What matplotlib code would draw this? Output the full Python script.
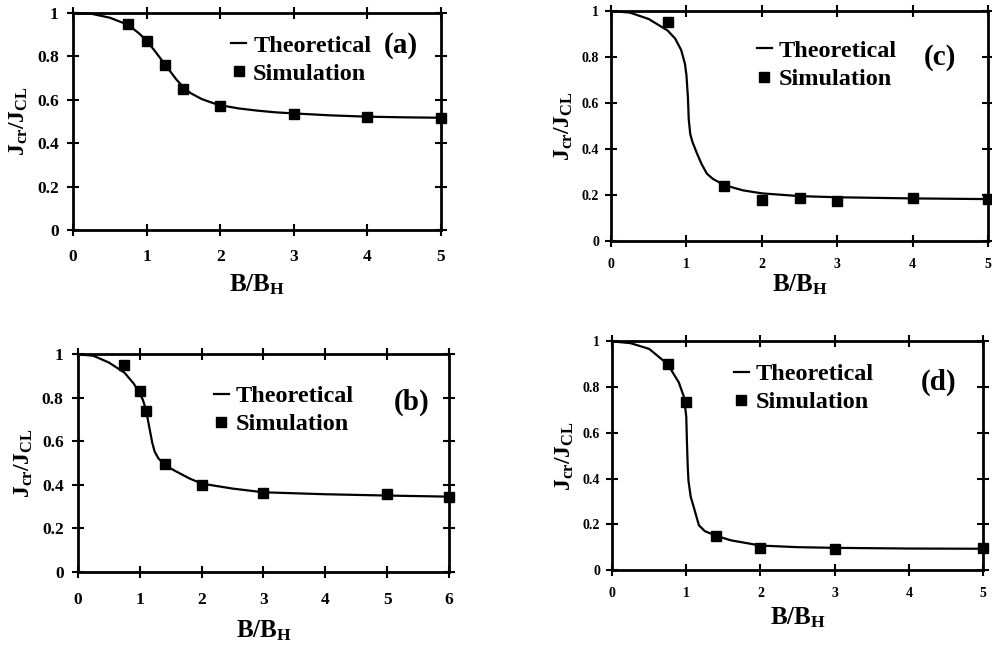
import matplotlib
matplotlib.use("Agg")
import matplotlib.pyplot as plt
from matplotlib.lines import Line2D

plt.rcParams['font.family'] = ['Liberation Serif', 'DejaVu Serif']
plt.rcParams['font.weight'] = 'bold'
plt.rcParams['mathtext.fontset'] = 'custom'
plt.rcParams['mathtext.rm'] = 'Liberation Serif:bold'
plt.rcParams['mathtext.bf'] = 'Liberation Serif:bold'
plt.rcParams['mathtext.it'] = 'Liberation Serif:bold'
plt.rcParams['lines.solid_joinstyle'] = 'round'

# ---- data ----
# panel (a)
a_curve_x = [0, 0.25, 0.5, 0.75, 0.9, 1.0, 1.1, 1.2, 1.3, 1.4, 1.5, 1.6, 1.75, 1.9, 2.0,
             2.25, 2.5, 2.75, 3.0, 3.5, 4.0, 4.5, 5.0]
a_curve_y = [1.0, 0.996, 0.978, 0.945, 0.905, 0.872, 0.83, 0.785, 0.74, 0.695, 0.657, 0.63,
             0.603, 0.585, 0.575, 0.56, 0.55, 0.542, 0.537, 0.528, 0.522, 0.519, 0.517]
a_sim_x = [0.75, 1.0, 1.25, 1.5, 2, 3, 4, 5]
a_sim_y = [0.95, 0.87, 0.76, 0.65, 0.57, 0.535, 0.52, 0.515]

# panel (b)
b_curve_x = [0, 0.25, 0.5, 0.75, 0.9, 1.0, 1.05, 1.1, 1.15, 1.2, 1.24, 1.3, 1.4, 1.5, 1.6,
             1.8, 2.0, 2.5, 3.0, 4.0, 5.0, 6.0]
b_curve_y = [1.0, 0.993, 0.962, 0.916, 0.866, 0.82, 0.79, 0.745, 0.67, 0.595, 0.553, 0.522,
             0.494, 0.475, 0.46, 0.43, 0.406, 0.383, 0.366, 0.357, 0.351, 0.346]
b_sim_x = [0.75, 1.0, 1.1, 1.4, 2, 3, 5, 6]
b_sim_y = [0.95, 0.83, 0.74, 0.495, 0.40, 0.363, 0.356, 0.345]

# panel (c)
c_curve_x = [0, 0.25, 0.5, 0.75, 0.85, 0.93, 0.98, 1.0, 1.02, 1.03, 1.05, 1.08, 1.14, 1.2,
             1.27, 1.35, 1.5, 1.75, 2.0, 2.5, 3.0, 4.0, 5.0]
c_curve_y = [1.0, 0.993, 0.965, 0.915, 0.88, 0.83, 0.77, 0.72, 0.62, 0.53, 0.465, 0.43,
             0.38, 0.335, 0.293, 0.27, 0.243, 0.22, 0.207, 0.195, 0.19, 0.185, 0.182]
c_sim_x = [0.75, 1.5, 2, 2.5, 3, 4, 5]
c_sim_y = [0.95, 0.24, 0.18, 0.187, 0.175, 0.187, 0.183]

# panel (d)
d_curve_x = [0, 0.25, 0.5, 0.75, 0.9, 0.97, 1.0, 1.01, 1.02, 1.03, 1.06, 1.1, 1.17, 1.25,
             1.4, 1.6, 2.0, 2.5, 3.0, 4.0, 5.0]
d_curve_y = [1.0, 0.992, 0.967, 0.90, 0.82, 0.756, 0.67, 0.55, 0.45, 0.39, 0.32, 0.276,
             0.196, 0.17, 0.15, 0.13, 0.107, 0.1, 0.097, 0.094, 0.093]
d_sim_x = [0.75, 1.0, 1.4, 2, 3, 5]
d_sim_y = [0.90, 0.734, 0.15, 0.097, 0.094, 0.097]

panels = [
    dict(label='(a)', cx=a_curve_x, cy=a_curve_y, sx=a_sim_x, sy=a_sim_y, xmax=5,
         rect=[0.0736, 0.644, 0.371, 0.336], tfs=12.5, xpad=9.5, ypad=6, xlp=5,
         leg=(0.43, 0.90), lab=(0.89, 0.85)),
    dict(label='(c)', cx=c_curve_x, cy=c_curve_y, sx=c_sim_x, sy=c_sim_y, xmax=5,
         rect=[0.616, 0.627, 0.380, 0.356], tfs=10, xpad=8, ypad=4.5, xlp=1,
         leg=(0.387, 0.874), lab=(0.873, 0.796)),
    dict(label='(b)', cx=b_curve_x, cy=b_curve_y, sx=b_sim_x, sy=b_sim_y, xmax=6,
         rect=[0.0786, 0.1146, 0.374, 0.337], tfs=12.5, xpad=10, ypad=6, xlp=7.5,
         leg=(0.367, 0.858), lab=(0.90, 0.78)),
    dict(label='(d)', cx=d_curve_x, cy=d_curve_y, sx=d_sim_x, sy=d_sim_y, xmax=5,
         rect=[0.617, 0.1176, 0.374, 0.354], tfs=10, xpad=8, ypad=4.5, xlp=4,
         leg=(0.329, 0.904), lab=(0.879, 0.82)),
]

fig = plt.figure(figsize=(9.92, 6.46), dpi=100)
for p in panels:
    ax = fig.add_axes(p['rect'])
    ax.plot(p['cx'], p['cy'], color='black', lw=1.6, clip_on=False)
    ax.plot(p['sx'], p['sy'], linestyle='none', marker='s', ms=7, color='black', clip_on=False)
    ax.set_xlim(0, p['xmax'])
    ax.set_ylim(0, 1)
    ax.set_xticks(range(0, p['xmax'] + 1))
    ax.set_yticks([0, 0.2, 0.4, 0.6, 0.8, 1])
    ax.set_yticklabels(['0', '0.2', '0.4', '0.6', '0.8', '1'])
    ax.tick_params(direction='inout', top=True, right=True, length=8.5, width=1.5,
                   labelsize=p['tfs'])
    ax.tick_params(axis='x', pad=p['xpad'])
    ax.tick_params(axis='y', pad=p['ypad'])
    for lbl in ax.get_xticklabels() + ax.get_yticklabels():
        lbl.set_fontweight('bold')
    for s in ax.spines.values():
        s.set_linewidth(2)
    ax.set_xlabel(r'B/B$_{\mathregular{H}}$', fontsize=18, fontweight='bold', labelpad=p['xlp'])
    ax.set_ylabel(r'J$_{\mathregular{cr}}$/J$_{\mathregular{CL}}$', fontsize=17,
                  fontweight='bold', labelpad=5)
    handles = [Line2D([], [], color='black', lw=1.6),
               Line2D([], [], color='black', marker='s', ls='none', ms=7.5)]
    ax.legend(handles, ['Theoretical', 'Simulation'], loc='upper left',
              bbox_to_anchor=p['leg'], frameon=False, handlelength=0.6,
              handletextpad=0.3, labelspacing=0.25, borderaxespad=0, borderpad=0,
              prop=dict(family='Liberation Serif', weight='bold', size=17.5))
    ax.text(p['lab'][0], p['lab'][1], p['label'], transform=ax.transAxes,
            fontsize=21, fontweight='bold', ha='center', va='center')

fig.savefig('out.png', dpi=100)
